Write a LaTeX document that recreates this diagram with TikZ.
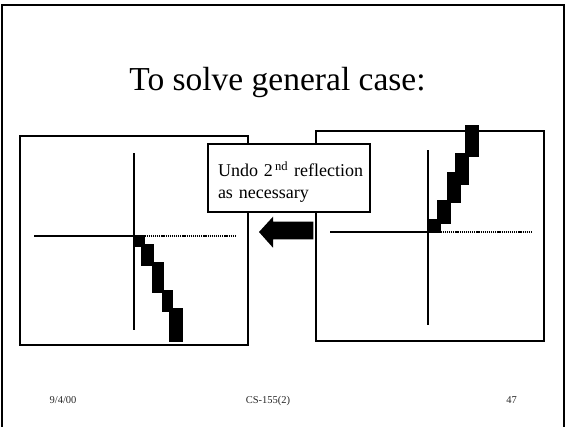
\documentclass[tikz,border=0pt]{standalone}
\usepackage{fontspec}
\setmainfont{Liberation Serif}
\begin{document}
\begin{tikzpicture}[x=1pt,y=-1pt,
  panel/.style={draw, line width=1.6pt, minimum width=#1, inner sep=0pt},
  axis/.style={line width=1.6pt},
  dotaxis/.style={line width=1.5pt, dash pattern=on 1.2pt off 0.9pt},
  blk/.style={fill=black},
  note/.style={draw, line width=1.6pt, fill=white, align=left, inner sep=0pt, text width=162pt, minimum height=68pt, font=\fontsize{18}{21.6}\selectfont},
  foot/.style={font=\fontsize{10.5}{12}\selectfont, text=black!85}]
\useasboundingbox (0,0) rectangle (567,426);
% outer frame
\draw[line width=1.8pt] (2,440) -- (2,5) -- (564,5) -- (564,440);
% title
\node[font=\fontsize{33.5}{40}\selectfont, anchor=base] (title) at (277.5,90) {To solve general case:};
% left panel
\node[panel=228pt, minimum height=209pt] (lbox) at (134,240.5) {};
\coordinate (lo) at (134,236);
\draw[axis] (134,153) -- (134,330);
\draw[axis] (34,236) -- (lo);
\draw[dotaxis] (lo) -- (236,236);
\fill[blk] (133.3,235) rectangle (145,247.3);
\fill[blk] (141,244) rectangle (154.3,265.7);
\fill[blk] (151.7,262.3) rectangle (164.3,293.3);
\fill[blk] (161.7,290) rectangle (172.7,311.7);
\fill[blk] (169.3,308.3) rectangle (182.7,341.7);
% right panel
\node[panel=228pt, minimum height=210pt] (rbox) at (430,236) {};
\coordinate (ro) at (428,232);
\draw[axis] (428,150) -- (428,325);
\draw[axis] (330,232) -- (ro);
\draw[dotaxis] (ro) -- (531.7,232);
\fill[blk] (427.3,219.3) rectangle (440.7,233.3);
\fill[blk] (436.7,200) rectangle (450.7,224);
\fill[blk] (446.7,171.7) rectangle (460.7,203.3);
\fill[blk] (455,153.3) rectangle (469.3,185);
\fill[blk] (465,125) rectangle (479,157.3);
% note box
\node[note] (note) at (289,178) {\hspace*{10pt}\rule{0pt}{23pt}Undo 2\textsuperscript{\,nd} reflection\\\hspace*{10pt}as necessary};
% arrow
\fill[black] (259,232) -- (273,216.7) -- (273,221.7) -- (313.3,221.7) -- (313.3,239.3) -- (273,239.3) -- (273,247.7) -- cycle;
% footer
\node[foot] (date) at (63,400.5) {9/4/00};
\node[foot] (course) at (268,400.5) {CS-155(2)};
\node[foot] (page) at (511.5,400.5) {47};
\end{tikzpicture}
\end{document}
